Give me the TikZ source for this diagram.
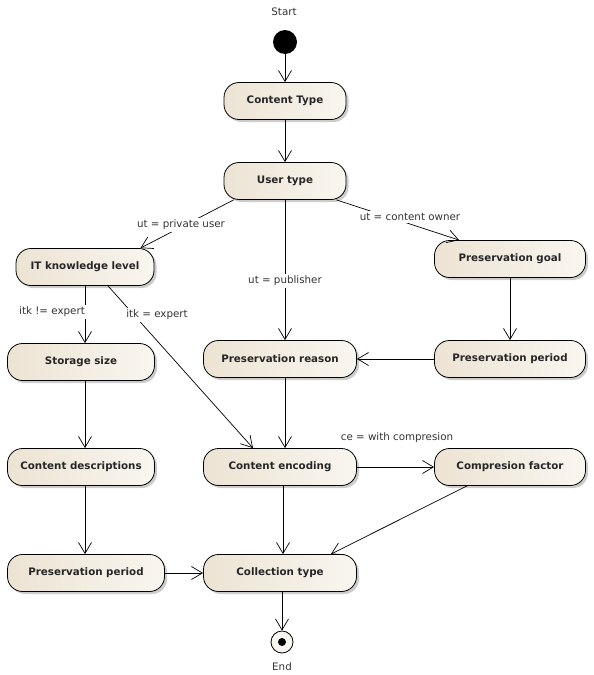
\documentclass[tikz,border=0pt]{standalone}
\usepackage{fontspec}
\setmainfont{DejaVu Sans}
\usepackage{xcolor}
\usepackage{tikz}
\usetikzlibrary{arrows.meta,shadows}

\definecolor{actleft}{RGB}{236,227,211}
\definecolor{actright}{RGB}{249,246,240}

\begin{document}
\begin{tikzpicture}[
    x=1pt, y=-1pt,
    action/.style={rectangle, draw=black, line width=0.8pt, rounded corners=15pt, left color=actleft, right color=actright, minimum height=37pt, font=\bfseries\fontsize{10.3}{12}\selectfont, text=black!85, drop shadow={shadow xshift=2.5pt, shadow yshift=-2.5pt, opacity=0.4}},
    guard/.style={font=\fontsize{10.3}{12}\selectfont, text=black!80, fill=white, inner sep=2pt},
    flow/.style={draw=black, line width=0.7pt, -{Straight Barb[length=11pt, width=13pt]}}
]
\useasboundingbox (0,0) rectangle (594,675);

% start and end
\node[guard] (start_label) at (284, 12) {Start};
\node[circle, fill=black, minimum size=24pt, inner sep=0pt] (start) at (285, 42) {};
\node[circle, draw=black, line width=0.8pt, fill=actright, minimum size=22pt, inner sep=0pt] (end) at (282, 642) {};
\node[circle, fill=black, minimum size=8pt, inner sep=0pt] (end_dot) at (282, 642) {};
\node[guard] (end_label) at (282, 667) {End};

% actions
\node[action, minimum width=122pt] (content_type) at (285, 101) {Content Type};
\node[action, minimum width=122pt] (user_type) at (285, 181) {User type};
\node[action, minimum width=138pt] (it_level) at (85, 267) {IT knowledge level};
\node[action, minimum width=151pt] (pres_goal) at (510, 259) {Preservation goal};
\node[action, minimum width=147pt] (storage_size) at (81, 362) {Storage size};
\node[action, minimum width=153pt] (pres_reason) at (280, 359) {Preservation reason};
\node[action, minimum width=151pt] (pres_period_r) at (510, 359) {Preservation period};
\node[action, minimum width=147pt] (content_desc) at (81, 467) {Content descriptions};
\node[action, minimum width=153pt] (content_enc) at (280, 467) {Content encoding};
\node[action, minimum width=151pt] (comp_factor) at (510, 467) {Compresion factor};
\node[action, minimum width=157pt] (pres_period_l) at (86, 573) {Preservation period};
\node[action, minimum width=153pt] (collection) at (280, 573) {Collection type};

% flows
\draw[flow] (start) -- (content_type);
\draw[flow] (content_type) -- (user_type);
\draw[flow] ([xshift=10pt]user_type.south west) -- ([xshift=-14pt]it_level.north east);
\draw[flow] ([xshift=-10pt]user_type.south east) -- ([xshift=25pt]pres_goal.north west);
\draw[flow] (user_type) -- (user_type |- pres_reason.north);
\draw[flow] (it_level.south) -- (it_level.south |- storage_size.north);
\draw[flow] ([xshift=23pt]it_level.south) -- ([xshift=-27pt]content_enc.north);
\draw[flow] (pres_goal) -- (pres_period_r);
\draw[flow] (pres_period_r) -- (pres_reason);
\draw[flow] ([xshift=5pt]pres_reason.south) -- ([xshift=5pt]content_enc.north);
\draw[flow] ([xshift=4pt]storage_size.south) -- ([xshift=4pt]content_desc.north);
\draw[flow] (content_enc) -- (comp_factor);
\draw[flow] ([xshift=4pt]content_desc.south) -- ([xshift=4pt]content_desc.south |- pres_period_l.north);
\draw[flow] ([xshift=3pt]content_enc.south) -- ([xshift=3pt]collection.north);
\draw[flow] ([xshift=-43pt]comp_factor.south) -- ([xshift=-26pt]collection.north east);
\draw[flow] (pres_period_l) -- (collection);
\draw[flow] ([xshift=2pt]collection.south) -- (end);

% guards
\node[guard] (g_private) at (181, 225) {ut = private user};
\node[guard] (g_owner) at (410, 217) {ut = content owner};
\node[guard] (g_publisher) at (285, 281) {ut = publisher};
\node[guard] (g_not_expert) at (52, 312) {itk != expert};
\node[guard] (g_expert) at (157, 315) {itk = expert};
\node[guard] (g_compression) at (397, 438) {ce = with compresion};

\end{tikzpicture}
\end{document}
